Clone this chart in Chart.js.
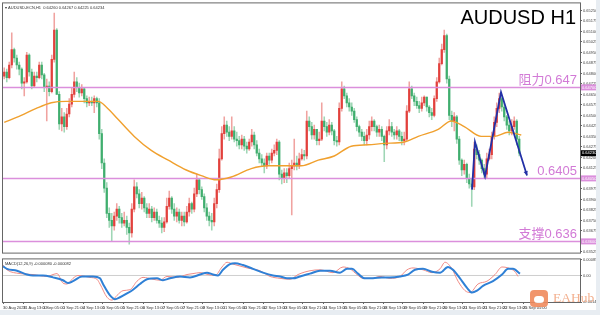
<!DOCTYPE html>
<html>
<head>
<meta charset="utf-8">
<script src="https://cdn.jsdelivr.net/npm/chart.js@4.4.0/dist/chart.umd.min.js"></script>
<style>
  html, body { margin: 0; padding: 0; background: #e8edf2; }
  #frame { position: absolute; left: 0; top: 0; width: 596px; height: 310px; background: #fff; }
  #main { position: absolute; left: 0; top: 0; }
  #osc { position: absolute; left: 0; top: 256px; }
  #wm { position: absolute; left: 530px; top: 290px; height: 18px; }
  #pig { position: absolute; left: 0; top: 0; width: 18px; height: 17px; background: #f08a5d; border-radius: 4px; opacity: 0.9; }
  #snout { position: absolute; left: 4px; top: 6px; width: 10px; height: 7px; background: #fff; border-radius: 4px; }
  #wm span { position: absolute; left: 23px; top: 0px; font: 13.5px "Liberation Serif", serif; color: #f3b08f; white-space: nowrap; }
</style>
</head>
<body>
<div id="frame">
  <canvas id="main" width="596" height="256"></canvas>
  <canvas id="osc" width="596" height="54"></canvas>
  <div id="wm"><div id="pig"><div id="snout"></div></div><span>EAHub</span></div>
</div>
<script>
// ---- data (H1 bars, compressed 2 per candle) ----
const firstOpen = 0.6478;
const closes = [
  0.6481,0.6477,0.6486,0.6497,0.6491,0.6486,0.6483,0.6473,0.6474,0.6493,
  0.6481,0.6471,0.6478,0.6477,0.6486,0.6479,0.6470,0.6471,0.6467,0.6490,
  0.6511,0.6465,0.6444,0.6449,0.6442,0.6451,0.6458,0.6465,0.6474,0.6470,
  0.6466,0.6469,0.6462,0.6459,0.6460,0.6459,0.6462,0.6459,0.6437,0.6416,
  0.6398,0.6380,0.6375,0.6371,0.6378,0.6383,0.6377,0.6373,0.6375,0.6370,
  0.6366,0.6383,0.6399,0.6394,0.6387,0.6391,0.6384,0.6380,0.6383,0.6377,
  0.6381,0.6375,0.6373,0.6370,0.6374,0.6385,0.6391,0.6383,0.6378,0.6381,
  0.6375,0.6378,0.6374,0.6381,0.6387,0.6383,0.6394,0.6404,0.6397,0.6392,
  0.6384,0.6378,0.6375,0.6374,0.6387,0.6397,0.6419,0.6437,0.6443,0.6438,
  0.6435,0.6439,0.6433,0.6432,0.6429,0.6433,0.6428,0.6426,0.6431,0.6436,
  0.6429,0.6423,0.6419,0.6416,0.6414,0.6421,0.6418,0.6423,0.6425,0.6431,
  0.6408,0.6405,0.6409,0.6407,0.6412,0.6414,0.6416,0.6414,0.6419,0.6422,
  0.6421,0.6446,0.6442,0.6436,0.6440,0.6432,0.6433,0.6446,0.6442,0.6438,
  0.6443,0.6439,0.6432,0.6431,0.6455,0.6469,0.6464,0.6459,0.6456,0.6453,
  0.6447,0.6442,0.6438,0.6435,0.6432,0.6436,0.6442,0.6446,0.6442,0.6438,
  0.6440,0.6435,0.6429,0.6439,0.6442,0.6438,0.6436,0.6439,0.6435,0.6432,
  0.6433,0.6453,0.6469,0.6464,0.6460,0.6457,0.6455,0.6459,0.6463,0.6456,
  0.6452,0.6450,0.6462,0.6474,0.6487,0.6497,0.6507,0.6476,0.6450,0.6446,
  0.6449,0.6433,0.6418,0.6411,0.6415,0.6405,0.6401,0.6399,0.6426,0.6422,
  0.6418,0.6412,0.6408,0.6419,0.6422,0.6435,0.6445,0.6455,0.6462,0.6456,
  0.6449,0.6443,0.6439,0.6442,0.6446,0.6433,0.6423
];
const highs = [
  0.6484,0.6483,0.6488,0.6509,0.6498,0.6493,0.6488,0.6484,0.6477,0.6495,
  0.6494,0.6483,0.6481,0.6481,0.6488,0.6488,0.6480,0.6476,0.6474,0.6493,
  0.6523,0.6512,0.6467,0.6455,0.6452,0.6455,0.6462,0.6470,0.6481,0.6477,
  0.6473,0.6472,0.6470,0.6464,0.6463,0.6463,0.6464,0.6463,0.6462,0.6440,
  0.6419,0.6402,0.6384,0.6380,0.6381,0.6387,0.6385,0.6380,0.6381,0.6378,
  0.6373,0.6387,0.6404,0.6402,0.6397,0.6395,0.6392,0.6387,0.6387,0.6385,
  0.6384,0.6383,0.6378,0.6377,0.6377,0.6391,0.6396,0.6392,0.6387,0.6384,
  0.6383,0.6381,0.6381,0.6385,0.6391,0.6388,0.6398,0.6408,0.6405,0.6399,
  0.6394,0.6387,0.6381,0.6380,0.6391,0.6401,0.6426,0.6442,0.6449,0.6446,
  0.6442,0.6449,0.6442,0.6438,0.6435,0.6436,0.6435,0.6431,0.6433,0.6440,
  0.6438,0.6432,0.6426,0.6422,0.6419,0.6423,0.6423,0.6426,0.6429,0.6433,
  0.6432,0.6411,0.6412,0.6412,0.6416,0.6418,0.6433,0.6421,0.6423,0.6426,
  0.6425,0.6453,0.6449,0.6445,0.6443,0.6440,0.6438,0.6459,0.6449,0.6445,
  0.6447,0.6445,0.6440,0.6435,0.6459,0.6474,0.6471,0.6466,0.6462,0.6459,
  0.6455,0.6449,0.6443,0.6440,0.6438,0.6440,0.6446,0.6449,0.6447,0.6443,
  0.6443,0.6442,0.6436,0.6442,0.6447,0.6445,0.6440,0.6442,0.6440,0.6438,
  0.6438,0.6457,0.6474,0.6471,0.6466,0.6463,0.6460,0.6463,0.6464,0.6463,
  0.6457,0.6455,0.6464,0.6477,0.6491,0.6501,0.6511,0.6508,0.6478,0.6453,
  0.6452,0.6450,0.6435,0.6419,0.6418,0.6416,0.6408,0.6405,0.6431,0.6429,
  0.6425,0.6419,0.6415,0.6423,0.6426,0.6438,0.6449,0.6459,0.6466,0.6463,
  0.6459,0.6450,0.6446,0.6447,0.6449,0.6447,0.6435
];
const lows = [
  0.6476,0.6474,0.6476,0.6484,0.6488,0.6483,0.6479,0.6469,0.6464,0.6473,
  0.6478,0.6469,0.6470,0.6474,0.6476,0.6476,0.6467,0.6446,0.6464,0.6466,
  0.6488,0.6465,0.6440,0.6439,0.6438,0.6440,0.6449,0.6456,0.6463,0.6467,
  0.6463,0.6464,0.6459,0.6456,0.6457,0.6457,0.6452,0.6456,0.6433,0.6412,
  0.6395,0.6377,0.6370,0.6360,0.6368,0.6375,0.6373,0.6370,0.6371,0.6365,
  0.6358,0.6363,0.6381,0.6391,0.6384,0.6383,0.6381,0.6377,0.6377,0.6374,
  0.6375,0.6373,0.6370,0.6366,0.6367,0.6373,0.6383,0.6380,0.6375,0.6374,
  0.6373,0.6371,0.6371,0.6373,0.6378,0.6380,0.6381,0.6392,0.6394,0.6390,
  0.6381,0.6375,0.6371,0.6368,0.6371,0.6384,0.6395,0.6418,0.6433,0.6435,
  0.6432,0.6433,0.6431,0.6428,0.6426,0.6426,0.6425,0.6423,0.6425,0.6428,
  0.6426,0.6421,0.6416,0.6414,0.6409,0.6412,0.6415,0.6416,0.6421,0.6422,
  0.6404,0.6401,0.6402,0.6402,0.6405,0.6379,0.6411,0.6411,0.6412,0.6418,
  0.6418,0.6419,0.6439,0.6433,0.6433,0.6429,0.6429,0.6432,0.6439,0.6435,
  0.6436,0.6436,0.6429,0.6428,0.6429,0.6453,0.6462,0.6456,0.6453,0.6450,
  0.6445,0.6439,0.6435,0.6432,0.6429,0.6429,0.6433,0.6439,0.6439,0.6435,
  0.6435,0.6432,0.6417,0.6426,0.6436,0.6435,0.6433,0.6433,0.6432,0.6429,
  0.6429,0.6432,0.6452,0.6462,0.6457,0.6455,0.6452,0.6453,0.6457,0.6453,
  0.6449,0.6447,0.6449,0.6460,0.6473,0.6486,0.6495,0.6473,0.6447,0.6442,
  0.6439,0.6430,0.6415,0.6407,0.6408,0.6402,0.6398,0.6385,0.6397,0.6419,
  0.6415,0.6409,0.6405,0.6405,0.6418,0.6419,0.6433,0.6442,0.6452,0.6453,
  0.6446,0.6440,0.6436,0.6436,0.6440,0.6429,0.6421
];

// moving average (orange), read at these bar positions
const maBars = [0,6.8,12.8,18.8,24.8,30.8,37.6,40.8,45.6,52,58.8,65.6,72.8,78.8,84.8,90.8,98.8,105.6,112,118.8,125.6,132,138.8,145.6,152,160,165.6,173.6,178.8,184,190.8,196,201.6,206.8];
const maValues = [0.6445,0.6450,0.6455,0.6459,0.6460,0.6460,0.6460,0.6456,0.6447,0.6435,0.6425,0.6418,0.6411,0.6407,0.6404,0.6406,0.6412,0.6414,0.6414,0.6414,0.6418,0.6421,0.6428,0.6429,0.6430,0.6431,0.6435,0.6440,0.6446,0.6442,0.6435,0.6435,0.6438,0.6436];

// hand drawn zigzag (blue)
const zzBars = [187.6, 188.8, 192.8, 199.2, 209.6];
const zzPrices = [0.6397, 0.6431, 0.64065, 0.64665, 0.6407];

// horizontal levels
const levelPrices = [0.647, 0.6405, 0.636];
const levelNames = ['阻力0.647', '0.6405', '支撑0.636'];

// oscillator pane
const macdMainBars = [0,1.6,5.6,9.6,12,16,20,24,26,28,31.6,36,38.8,40,42.8,44.8,46.8,49.6,52,54.8,57.6,61.6,64,66.8,70.8,74.8,78.8,81.6,84,86,88,90.8,92.8,96,100,104,108,110.8,113.6,116,118.8,122.8,126.8,130.8,134.8,137.6,139.6,142,144.8,148,151.6,154.8,158.8,162,164.8,168,171.6,174.8,178,180,182.8,185.6,187.6,189.6,192,196,199.6,202,204,206.8];
const macdMain = [0.00048,0.00035,0.00025,0.00005,0,0,-0.0001,-0.00025,-0.0004,-0.0003,-0.00005,-0.00005,-0.00015,-0.00045,-0.00105,-0.00125,-0.00115,-0.00095,-0.00075,-0.00045,-0.0002,-0.00015,-0.00025,-0.00015,-0.00005,-0.0001,0.00005,0.00015,0.00005,0,0.0003,0.0006,0.00065,0.00055,0.00035,0.00015,0,-0.00005,-0.00015,-0.00015,-0.00005,0.0001,0.00025,0.00025,0.00015,0.00035,0.00035,0.0001,-0.00015,-0.00015,-0.0001,-0.0001,-0.00005,0.00005,0.0003,0.00035,0.0002,0.00015,0.00045,0.0003,-0.00015,-0.00065,-0.0009,-0.0008,-0.00055,-0.0003,0.00005,0.00035,0.00035,0.0001];
const macdSignalBars = [0,1.6,6.8,12,17.6,20,21.6,24,25.6,28,30,34.8,37.6,38.8,41.6,43.6,45.6,48,50.8,53.6,56,60,62.8,65.6,69.6,73.6,76,78.8,82,84.8,87.6,89.6,92,97.6,102.8,106.8,110.8,114.8,118,122.8,126.8,132,136,138.8,141.6,144,147.6,150.8,154.8,158.8,161.6,164,168,171.6,174.8,176.8,179.6,182,184.8,186.8,190,193.6,196.8,199.6,202,204.8,206];
const macdSignal = [0.00055,0.0003,0.0001,0.00005,-0.00005,0.00005,0.0001,-0.0004,-0.00045,-0.00015,0,-0.0001,-0.0002,-0.00045,-0.00115,-0.0013,-0.00105,-0.0008,-0.00075,-0.0003,-0.0001,-0.0002,-0.00025,-0.00005,-0.0001,0.00005,0.0001,0.00015,0.00005,0,0.00045,0.0007,0.0006,0.0004,0.00025,-0.00005,-0.00015,-0.0002,0.00005,0.00025,0.0003,0.00015,0.00045,0.00035,0.00005,-0.00015,-0.00015,-0.00005,-0.00015,-0.00005,0.0003,0.0004,0.0003,0.00015,0.00035,0.0007,0.00035,-0.0003,-0.0008,-0.0009,-0.00045,-0.0003,0.00005,0.00045,0.0004,0.0002,-0.00005];

// axis labels
const priceTicks = [0.65250,0.65175,0.65100,0.65025,0.64950,0.64875,0.64800,0.64725,0.64650,0.64575,0.64500,0.64425,0.64350,0.64275,0.64200,0.64125,0.64050,0.63975,0.63900,0.63825,0.63750,0.63675,0.63600,0.63525];
const oscTicks = [0.00085, 0, -0.0014];
const timeLabels = ['30 Aug 2023','31 Aug 13:00','1 Sep 05:00','1 Sep 21:00','4 Sep 13:00','5 Sep 05:00','5 Sep 21:00','6 Sep 13:00','7 Sep 05:00','7 Sep 21:00','8 Sep 13:00','11 Sep 05:00','11 Sep 21:00','12 Sep 13:00','13 Sep 05:00','13 Sep 21:00','14 Sep 13:00','15 Sep 05:00','15 Sep 21:00','18 Sep 13:00','19 Sep 05:00','19 Sep 21:00','20 Sep 13:00','21 Sep 05:00','21 Sep 21:00','22 Sep 13:00','25 Sep 05:00'];
const timeBars = timeLabels.map((t, k) => k * 8);

const headerText = 'AUDUSD-ECN,H1  0.64260 0.64267 0.64225 0.64234';
const oscHeader = 'MACD(12,26,9) -0.000080 -0.000082';
const lastPrice = closes[closes.length - 1];

const X_MAX = 230.8;
const UP_BODY = '#e2403c', DOWN_BODY = '#3fae6e';
const UP_WICK = '#f0a3a0', DOWN_WICK = '#9fd6b5';
const LEVEL = '#db8fdc', LEVEL_TEXT = '#d27ad6';
const tiny = { family: '"Liberation Sans", Arial, sans-serif', size: 4 };

// ---- build candle tables ----
const opens = closes.map((c, i) => i === 0 ? firstOpen : closes[i - 1]);
const isUp = closes.map((c, i) => c >= opens[i]);
const bodies = closes.map((c, i) => ({ x: i + 0.5, y: [opens[i], c] }));
const wicks = closes.map((c, i) => ({
    x: i + 0.5,
    y: [Math.min(lows[i], opens[i], c), Math.max(highs[i], opens[i], c)]
}));
const levelLine = p => [{ x: 0, y: p }, { x: X_MAX, y: p }];

const mainOverlay = {
    id: 'mainOverlay',
    afterDraw(chart) {
        const { ctx, chartArea: a, scales: { y } } = chart;
        ctx.save();
        ctx.strokeStyle = '#666';
        ctx.lineWidth = 1;
        ctx.strokeRect(a.left - 0.5, a.top - 0.5, a.right - a.left + 1, a.bottom - a.top + 1);

        // header line
        ctx.fillStyle = '#333';
        ctx.font = '4px "Liberation Sans", Arial';
        ctx.textBaseline = 'middle';
        ctx.fillText('\u25BE ' + headerText, a.left + 2, a.top + 4);

        // symbol title
        ctx.fillStyle = '#000';
        ctx.font = '20px "Liberation Sans", Arial';
        ctx.textAlign = 'right';
        ctx.textBaseline = 'alphabetic';
        ctx.fillText('AUDUSD H1', a.right - 4, a.top + 21);

        // level names
        ctx.fillStyle = LEVEL_TEXT;
        ctx.font = '13px "Liberation Sans", "Noto Sans CJK SC", sans-serif';
        levelPrices.forEach((p, k) => {
            ctx.fillText(levelNames[k], a.right - 3, y.getPixelForValue(p) - 3);
        });

        // price boxes on the axis
        ctx.textAlign = 'left';
        ctx.textBaseline = 'middle';
        ctx.font = '4px "Liberation Sans", Arial';
        const box = (p, bg) => {
            const py = y.getPixelForValue(p);
            ctx.fillStyle = bg;
            ctx.fillRect(a.right + 1, py - 3, 15, 6);
            ctx.fillStyle = '#fff';
            ctx.fillText(p.toFixed(5), a.right + 2, py);
        };
        levelPrices.forEach(p => box(p, LEVEL));
        box(lastPrice, '#000');

        // arrow head at the end of the zigzag
        const x = chart.scales.x;
        const n = zzBars.length;
        const x1 = x.getPixelForValue(zzBars[n - 2]), y1 = y.getPixelForValue(zzPrices[n - 2]);
        const x2 = x.getPixelForValue(zzBars[n - 1]), y2 = y.getPixelForValue(zzPrices[n - 1]);
        const ang = Math.atan2(y2 - y1, x2 - x1);
        ctx.fillStyle = '#2230a6';
        ctx.beginPath();
        ctx.moveTo(x2, y2);
        ctx.lineTo(x2 - 5 * Math.cos(ang - 0.45), y2 - 5 * Math.sin(ang - 0.45));
        ctx.lineTo(x2 - 5 * Math.cos(ang + 0.45), y2 - 5 * Math.sin(ang + 0.45));
        ctx.closePath();
        ctx.fill();
        ctx.restore();
    }
};

new Chart(document.getElementById('main'), {
    type: 'bar',
    data: {
        datasets: [
            {
                type: 'line', label: 'zigzag', order: 0,
                data: zzBars.map((b, k) => ({ x: b, y: zzPrices[k] })),
                borderColor: '#2230a6', borderWidth: 1.8, pointRadius: 0, tension: 0
            },
            {
                type: 'line', label: 'MA', order: 1,
                data: maBars.map((b, k) => ({ x: b + 0.5, y: maValues[k] })),
                borderColor: '#f0a02e', borderWidth: 1.4, pointRadius: 0,
                cubicInterpolationMode: 'monotone'
            },
            {
                label: 'body', order: 3, grouped: false,
                data: bodies, barThickness: 1.6, minBarLength: 1,
                backgroundColor: isUp.map(u => u ? UP_BODY : DOWN_BODY)
            },
            {
                label: 'wick', order: 4, grouped: false,
                data: wicks, barThickness: 0.9,
                backgroundColor: isUp.map(u => u ? UP_WICK : DOWN_WICK)
            },
            ...levelPrices.map(p => ({
                type: 'line', order: 2, data: levelLine(p),
                borderColor: LEVEL, borderWidth: 1.5, pointRadius: 0
            }))
        ]
    },
    options: {
        responsive: false,
        animation: false,
        events: [],
        layout: { padding: { left: 3, top: 3, right: 0, bottom: 1 } },
        plugins: { legend: { display: false }, tooltip: { enabled: false } },
        scales: {
            x: { type: 'linear', min: 0, max: X_MAX, offset: false, display: false },
            y: {
                position: 'right', min: 0.63520, max: 0.65300,
                afterFit(s) { s.width = 16; },
                afterBuildTicks(s) { s.ticks = priceTicks.map(v => ({ value: v })); },
                ticks: { font: tiny, color: '#444', padding: 1, autoSkip: false, callback: v => v.toFixed(5) },
                grid: { drawOnChartArea: false, tickLength: 2, color: '#666' },
                border: { color: '#666' }
            }
        }
    },
    plugins: [mainOverlay]
});

const oscOverlay = {
    id: 'oscOverlay',
    afterDraw(chart) {
        const { ctx, chartArea: a } = chart;
        ctx.save();
        ctx.strokeStyle = '#666';
        ctx.lineWidth = 1;
        ctx.strokeRect(a.left - 0.5, a.top - 0.5, a.right - a.left + 1, a.bottom - a.top + 1);
        ctx.fillStyle = '#333';
        ctx.font = '4px "Liberation Sans", Arial';
        ctx.textBaseline = 'middle';
        ctx.fillText(oscHeader, a.left + 2, a.top + 4);
        ctx.restore();
    }
};

new Chart(document.getElementById('osc'), {
    type: 'line',
    data: {
        datasets: [
            {
                label: 'main', data: macdMainBars.map((b, k) => ({ x: b, y: macdMain[k] })),
                borderColor: '#2f80d6', borderWidth: 2, pointRadius: 0, cubicInterpolationMode: 'monotone'
            },
            {
                label: 'signal', data: macdSignalBars.map((b, k) => ({ x: b, y: macdSignal[k] })),
                borderColor: '#f08c86', borderWidth: 1, pointRadius: 0, cubicInterpolationMode: 'monotone'
            },
            {
                label: 'zero', data: [{ x: 0, y: 0 }, { x: X_MAX, y: 0 }],
                borderColor: '#cfcfcf', borderWidth: 1, pointRadius: 0
            }
        ]
    },
    options: {
        responsive: false,
        animation: false,
        events: [],
        layout: { padding: { left: 3, top: 1, right: 0, bottom: 0 } },
        plugins: { legend: { display: false }, tooltip: { enabled: false } },
        scales: {
            x: {
                type: 'linear', min: 0, max: X_MAX, offset: false,
                afterFit(s) { s.height = 8; },
                afterBuildTicks(s) { s.ticks = timeBars.map(v => ({ value: v })); },
                ticks: {
                    font: tiny, color: '#333', padding: 1, align: 'start', maxRotation: 0, autoSkip: false,
                    callback: (v, i) => timeLabels[i]
                },
                grid: { drawOnChartArea: false, tickLength: 2, color: '#666' },
                border: { color: '#666' }
            },
            y: {
                position: 'right', min: -0.0014, max: 0.00085,
                afterFit(s) { s.width = 16; },
                afterBuildTicks(s) { s.ticks = oscTicks.map(v => ({ value: v })); },
                ticks: { font: tiny, color: '#444', padding: 1, autoSkip: false, callback: v => v === 0 ? '0.00' : v.toFixed(5) },
                grid: { drawOnChartArea: false, tickLength: 2, color: '#666' },
                border: { color: '#666' }
            }
        }
    },
    plugins: [oscOverlay]
});
</script>
</body>
</html>
